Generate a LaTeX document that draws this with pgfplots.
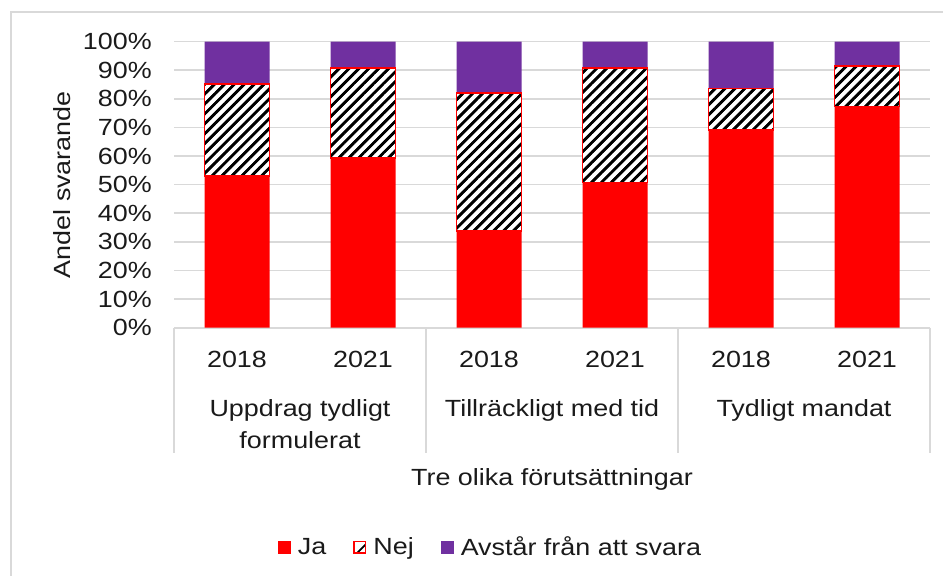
\documentclass[border=0pt]{standalone}
\usepackage{pgfplots}
\pgfplotsset{compat=1.18}
\usepackage{pgfplotstable}
\usetikzlibrary{patterns.meta}
\usepackage{fontspec}
\setmainfont{Liberation Sans}[FakeStretch=1.15]
\definecolor{jared}{HTML}{FF0000}
\definecolor{avpurple}{HTML}{7030A0}
\definecolor{gridgray}{HTML}{D9D9D9}
\definecolor{txt}{HTML}{1A1A1A}

\pgfplotstableread{
x Ja Nej Av
0 53.1 32.1 14.8
1 59.4 31.5 9.1
2 33.9 48.2 17.9
3 50.8 40.1 9.1
4 69.2 14.5 16.3
5 77.4 14.2 8.4
}\data

\begin{document}
\begin{tikzpicture}[font=\fontsize{23.4bp}{27bp}\selectfont, text=txt]
\useasboundingbox (0,0) rectangle (943bp,576bp);
\draw[gridgray, line width=2bp] (11bp,0bp) -- (11bp,564bp) -- (943bp,564bp);
\begin{axis}[
  at={(174bp,248.3bp)}, anchor=south west,
  width=756bp, height=286bp, scale only axis,
  ybar stacked, bar width=65bp,
  xmin=-0.5, xmax=5.5, ymin=0, ymax=100,
  axis line style={draw=none},
  major tick length=0pt,
  ytick={0,10,...,100},
  yticklabels={0\%,10\%,20\%,30\%,40\%,50\%,60\%,70\%,80\%,90\%,100\%},
  yticklabel style={anchor=east, inner sep=0pt, xshift=-22bp},
  xtick={0,...,5},
  xticklabels={2018,2021,2018,2021,2018,2021},
  xticklabel style={anchor=base, inner sep=0pt, yshift=-40bp},
  ymajorgrids, major grid style={gridgray, line width=1.6bp},
  clip=false,
  ylabel={Andel svarande},
  every axis y label/.style={at={(rel axis cs:-0.148,0.5)}, rotate=90, anchor=center},
  legend style={draw=none, fill=none, at={(0.418,-0.767)}, anchor=center,
    legend columns=3, /tikz/every even column/.append style={column sep=26bp},
    nodes={inner sep=1bp}, font=\fontsize{23.4bp}{27bp}\selectfont},
  legend cell align=left,
]
\addplot[forget plot, fill=jared, draw=none] table[x=x, y=Ja] {\data};
\addplot[forget plot, draw=none, preaction={fill=white},
  pattern={Lines[angle=45,distance=7bp,line width=2.6bp]}, pattern color=black,
  postaction={draw=jared, line width=1.6bp}] table[x=x, y=Nej] {\data};
\addplot[forget plot, fill=avpurple, draw=none] table[x=x, y=Av] {\data};

\addlegendimage{draw=none, fill=none, legend image code/.code={
  \fill[jared] (0bp,-6.5bp) rectangle (13bp,6.5bp);
  \path[draw=none, fill=none] (0bp,0bp) -- (19bp,0bp);}}
\addlegendentry{Ja}
\addlegendimage{draw=none, fill=none, legend image code/.code={
  \fill[white] (0.8bp,-5.7bp) rectangle (12.2bp,5.7bp);
  \fill[black] (3.5bp,-5bp) -- (6bp,-5bp) -- (11.5bp,0.5bp) -- (11.5bp,3bp) -- cycle;
  \draw[jared, line width=1.6bp] (0.8bp,-5.7bp) rectangle (12.2bp,5.7bp);
  \path[draw=none, fill=none] (0bp,0bp) -- (19bp,0bp);}}
\addlegendentry{Nej}
\addlegendimage{draw=none, fill=none, legend image code/.code={
  \fill[avpurple] (0bp,-6.5bp) rectangle (13bp,6.5bp);
  \path[draw=none, fill=none] (0bp,0bp) -- (19bp,0bp);}}
\addlegendentry{Avstår från att svara}

% category frame
\draw[gridgray, line width=1.6bp] (axis cs:-0.5,0) -- (axis cs:5.5,0);
\draw[gridgray, line width=1.6bp] (axis cs:-0.5,0) -- (axis cs:-0.5,-43.8);
\draw[gridgray, line width=1.6bp] (axis cs:1.5,0) -- (axis cs:1.5,-43.8);
\draw[gridgray, line width=1.6bp] (axis cs:3.5,0) -- (axis cs:3.5,-43.8);
\draw[gridgray, line width=1.6bp] (axis cs:5.5,0) -- (axis cs:5.5,-43.8);
\node[anchor=base] at (axis cs:0.5,-31.1) {Uppdrag tydligt};
\node[anchor=base] at (axis cs:0.5,-42.1) {formulerat};
\node[anchor=base] at (axis cs:2.5,-31.1) {Tillräckligt med tid};
\node[anchor=base] at (axis cs:4.5,-31.1) {Tydligt mandat};
\node[anchor=base] at (axis cs:2.5,-55.2) {Tre olika förutsättningar};
\end{axis}
\end{tikzpicture}
\end{document}
